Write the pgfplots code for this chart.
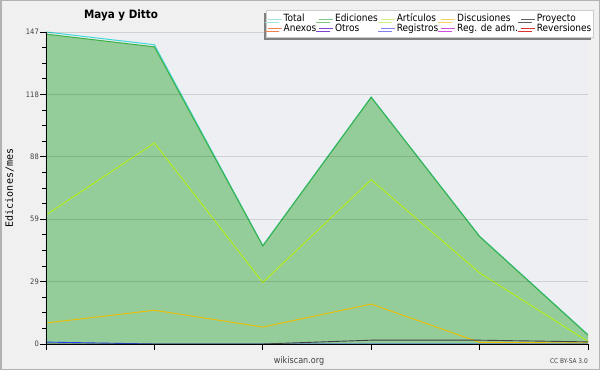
\documentclass[border=0pt]{standalone}
\usepackage{fontspec}
\setmainfont{DejaVu Sans}[FakeStretch=0.9]
\newfontfamily\monofont{DejaVu Sans Mono}
\usepackage{pgfplots}
\pgfplotsset{compat=1.18}
\usetikzlibrary{shadows}
\definecolor{outerbg}{HTML}{F0F0F0}
\definecolor{plotbg}{HTML}{EEEFF2}
\definecolor{edfill}{HTML}{94CC9A}
\definecolor{edline}{HTML}{3CB043}
\definecolor{totline}{HTML}{40D8D8}
\definecolor{artline}{HTML}{B4F014}
\definecolor{disline}{HTML}{F0C000}
\definecolor{proline}{HTML}{404040}
\definecolor{regline}{HTML}{2040F0}
\definecolor{lgTot}{HTML}{A0E4E0}
\definecolor{lgEd}{HTML}{80C880}
\definecolor{lgArt}{HTML}{D0F080}
\definecolor{lgDis}{HTML}{F8D060}
\definecolor{lgPro}{HTML}{606060}
\definecolor{lgAne}{HTML}{F08050}
\definecolor{lgOtr}{HTML}{8040D0}
\definecolor{lgReg}{HTML}{8080F0}
\definecolor{lgAdm}{HTML}{D050E0}
\definecolor{lgRev}{HTML}{E03030}
\begin{document}
\begin{tikzpicture}
\useasboundingbox (0pt,0pt) rectangle (600pt,370pt);
\fill[outerbg] (0pt,0pt) rectangle (600pt,370pt);
\draw[black!30, line width=1.5pt] (0.75pt,0.75pt) rectangle (599.25pt,369.25pt);
\begin{axis}[
  at={(46pt,26pt)}, anchor=south west,
  scale only axis, width=542pt, height=312pt,
  xmin=0, xmax=5, ymin=0, ymax=147,
  axis background/.style={fill=plotbg},
  axis x line*=bottom, axis y line*=left,
  axis line style={black, line width=0.9pt},
  tick align=outside,
  major tick length=6pt, minor tick length=3.5pt,
  tick style={black, line width=0.8pt},
  xtick={0,1,2,3,4,5}, xticklabels={},
  ytick={0,29.4,58.8,88.2,117.6,147},
  yticklabels={0,29,59,88,118,147},
  minor ytick={7.35,14.7,22.05,36.75,44.1,51.45,66.15,73.5,80.85,95.55,102.9,110.25,124.95,132.3,139.65},
  ymajorgrids,
  major grid style={black, opacity=0.12, line width=0.8pt},
  axis on top,
  yticklabel style={font=\fontsize{7.5}{9}\selectfont, text=black!75, inner sep=1pt},
  legend columns=5,
  legend style={at={(1.0111,1.0705)}, anchor=north east,
    fill=white, draw=black!20, line width=0.6pt,
    font=\fontsize{10}{11}\selectfont,
    inner xsep=1pt, inner ysep=4pt,
    nodes={inner xsep=1.3pt, inner ysep=0pt, text height=7.5pt, text depth=2pt},
    /tikz/every even column/.append style={column sep=1.5pt},
    drop shadow={shadow xshift=-3pt, shadow yshift=-3pt, fill=black!50, opacity=1}},
  legend cell align=left,
  legend image code/.code={\draw[#1, line width=0.8pt] (0pt,0pt) -- (14pt,0pt);},
]
\addlegendimage{lgTot}\addlegendentry{Total}
\addlegendimage{lgEd}\addlegendentry{Ediciones}
\addlegendimage{lgArt}\addlegendentry{Artículos}
\addlegendimage{lgDis}\addlegendentry{Discusiones}
\addlegendimage{lgPro}\addlegendentry{Proyecto}
\addlegendimage{lgAne}\addlegendentry{Anexos}
\addlegendimage{lgOtr}\addlegendentry{Otros}
\addlegendimage{lgReg}\addlegendentry{Registros}
\addlegendimage{lgAdm}\addlegendentry{Reg. de adm.}
\addlegendimage{lgRev}\addlegendentry{Reversiones}
% Ediciones area
\addplot[fill=edfill, draw=none, forget plot] coordinates {(0,146) (1,140) (2,46.2) (3,116.2) (4,50.6) (5,4.2)} \closedcycle;
% Total
\addplot[totline, line width=1pt, forget plot] coordinates {(0,147) (1,141) (2,46.4) (3,116.4) (4,50.8) (5,4.4)};
% Ediciones line
\addplot[edline, line width=1pt, forget plot] coordinates {(0,146) (1,140) (2,46.2) (3,116.2) (4,50.6) (5,4.2)};
% Articulos
\addplot[artline, line width=0.9pt, forget plot] coordinates {(0,60.8) (1,94.7) (2,29.0) (3,77.4) (4,33.5) (5,1.2)};
% Discusiones
\addplot[disline, line width=0.9pt, forget plot] coordinates {(0,9.9) (1,15.9) (2,8.0) (3,18.8) (4,0.8) (5,0.5)};
% Registros
\addplot[regline, line width=0.9pt, forget plot] coordinates {(0,0.9) (1,0) (2,0) (3,0) (4,0) (5,0)};
% Proyecto
\addplot[proline, line width=0.9pt, forget plot] coordinates {(0,0) (1,0) (2,0) (3,1.8) (4,1.8) (5,1.0)};
\end{axis}
\node[anchor=base, font=\bfseries\fontsize{11.5}{13}\selectfont] at (121pt,351.5pt) {Maya y Ditto};
\node[rotate=90, font=\monofont\fontsize{10}{12}\selectfont] at (9.5pt,182pt) {Ediciones/mes};
\node[font=\fontsize{9}{10}\selectfont, text=black!75] at (299pt,9pt) {wikiscan.org};
\node[anchor=east, font=\fontsize{6.5}{7}\selectfont, text=black!75, inner sep=0pt] at (588pt,9pt) {CC BY-SA 3.0};
\end{tikzpicture}
\end{document}
